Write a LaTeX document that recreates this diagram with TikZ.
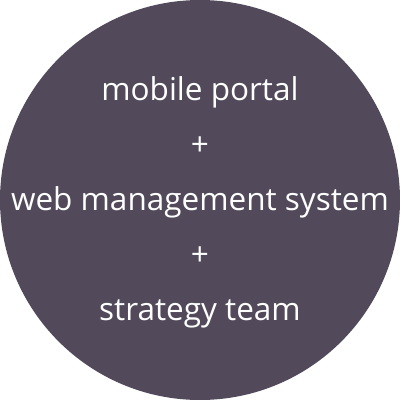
\documentclass[tikz,border=0pt]{standalone}
\usepackage{fontspec}
\setmainfont{Open Sans}
\definecolor{discfill}{HTML}{524A5A}
\tikzset{
  discline/.style={text=white, font=\fontsize{31.5}{36}\selectfont, inner sep=0pt, anchor=base}
}

\begin{document}
\begin{tikzpicture}[x=1pt, y=-1pt]
\useasboundingbox (0,0) rectangle (400,400);
\fill[discfill] (200,200) circle (200);
\node[discline] (portal) at (200,100) {mobile portal};
\node[discline] (plusa) at (200,155) {+};
\node[discline] (web) at (200,210) {web management system};
\node[discline] (plusb) at (200,265) {+};
\node[discline] (team) at (200,320) {strategy team};
\end{tikzpicture}
\end{document}
